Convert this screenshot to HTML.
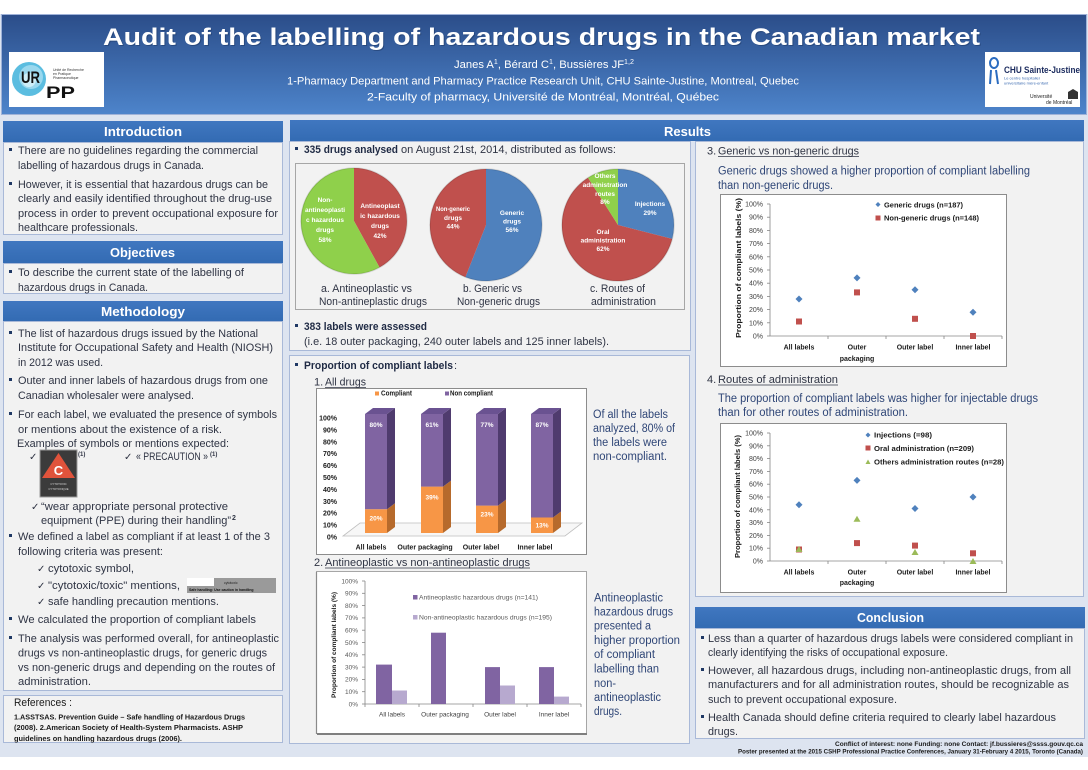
<!DOCTYPE html>
<html><head><meta charset="utf-8">
<style>
html,body{margin:0;padding:0;background:#fff}
svg{display:block}
text{font-family:"Liberation Sans",sans-serif}
.b{font-size:11px;fill:#2f3444}
.bb{font-size:11px;fill:#1f2a44;font-weight:bold}
.c{font-size:11.5px;fill:#2f4677}
.h{font-size:13px;fill:#fff;font-weight:bold}
.ck{font-family:"DejaVu Sans",sans-serif;font-size:10px;fill:#2f3444}
.pw{font-size:6.5px;fill:#fff;font-weight:bold;text-anchor:middle}
.a7b{font-size:7px;fill:#1a1a1a;font-weight:bold}
.a7{font-size:7px;fill:#404040}
.a65{font-size:6.5px;fill:#595959}
.e{text-anchor:end}
.m{text-anchor:middle}
</style></head>
<body>
<svg width="1088" height="770" viewBox="0 0 1088 770" xmlns="http://www.w3.org/2000/svg">
<defs>
<linearGradient id="hg" x1="0" y1="0" x2="0" y2="1"><stop offset="0" stop-color="#2b4d89"/><stop offset="1" stop-color="#4d84cb"/></linearGradient>
<linearGradient id="sg" x1="0" y1="0" x2="0" y2="1"><stop offset="0" stop-color="#4077c0"/><stop offset="1" stop-color="#336bb3"/></linearGradient>
</defs>
<rect x="0" y="0" width="1088" height="770" fill="#fff"/>
<rect x="0" y="14" width="1088" height="743" fill="#dde4f0"/>
<!-- Header -->
<rect x="1.5" y="14.5" width="1085" height="100" fill="url(#hg)" stroke="#9fb2d8"/>
<text x="104" y="46" font-size="24" font-weight="bold" fill="#1b3560" opacity="0.5" textLength="877" lengthAdjust="spacingAndGlyphs">Audit of the labelling of hazardous drugs in the Canadian market</text>
<text x="103" y="45" font-size="24" font-weight="bold" fill="#fff" textLength="877" lengthAdjust="spacingAndGlyphs">Audit of the labelling of hazardous drugs in the Canadian market</text>
<text x="454" y="68" font-size="11" fill="#fff" textLength="180" lengthAdjust="spacingAndGlyphs">Janes A<tspan font-size="7" dy="-4">1</tspan><tspan dy="4">, Bérard C</tspan><tspan font-size="7" dy="-4">1</tspan><tspan dy="4">, Bussières JF</tspan><tspan font-size="7" dy="-4">1,2</tspan></text>
<text x="287" y="84.5" font-size="11" fill="#fff" textLength="512" lengthAdjust="spacingAndGlyphs">1-Pharmacy Department and Pharmacy Practice Research Unit, CHU Sainte-Justine, Montreal, Quebec</text>
<text x="367" y="100.5" font-size="11" fill="#fff" textLength="352" lengthAdjust="spacingAndGlyphs">2-Faculty of pharmacy, Université de Montréal, Montréal, Québec</text>
<!-- left logo -->
<rect x="9" y="52" width="95" height="55" fill="#fff"/>
<circle cx="29" cy="79" r="17" fill="#5bbde0"/>
<circle cx="31" cy="77" r="12" fill="#9ad8ee"/>
<circle cx="29" cy="80" r="7" fill="#cdeef8"/>
<text x="21" y="83" font-size="17" font-weight="bold" fill="#111" textLength="19" lengthAdjust="spacingAndGlyphs">UR</text>
<text x="46" y="98" font-size="17" font-weight="bold" fill="#111" textLength="29" lengthAdjust="spacingAndGlyphs">PP</text>
<text x="53" y="71" font-size="3.5" fill="#333">Unité de Recherche</text>
<text x="53" y="75" font-size="3.5" fill="#333">en Pratique</text>
<text x="53" y="79" font-size="3.5" fill="#333">Pharmaceutique</text>
<!-- right logo -->
<rect x="985" y="52" width="95" height="55" fill="#fff"/>
<ellipse cx="994" cy="63" rx="4" ry="5" fill="none" stroke="#2b6cc0" stroke-width="2"/>
<path d="M991 70 L990 84 M996 70 L998 84" stroke="#2b6cc0" stroke-width="2"/>
<text x="1004" y="73" font-family="Liberation Serif,serif" font-weight="bold" font-size="9" fill="#1b2b5e" textLength="76" lengthAdjust="spacingAndGlyphs">CHU Sainte-Justine</text>
<text x="1004" y="79.5" font-size="4" fill="#3a6ab0">Le centre hospitalier</text>
<text x="1004" y="84.5" font-size="4" fill="#3a6ab0">universitaire mère-enfant</text>
<text x="1030" y="98" font-family="Liberation Serif,serif" font-size="5" fill="#222">Université</text>
<text x="1046" y="104" font-family="Liberation Serif,serif" font-size="5" fill="#222">de Montréal</text>
<path d="M1068 99 L1068 92 L1073 89 L1078 92 L1078 99 Z" fill="#333"/>

<!-- LEFT COLUMN -->
<rect x="3" y="121" width="280" height="21" fill="url(#sg)"/>
<text class="h" x="104" y="136" textLength="78" lengthAdjust="spacingAndGlyphs">Introduction</text>
<rect x="3.5" y="142.5" width="279" height="92" fill="#f2f2f2" stroke="#a9b9d8"/>
<rect x="9" y="148" width="3" height="3" fill="#1f3864"/>
<text class="b" x="18" y="154" textLength="240" lengthAdjust="spacingAndGlyphs">There are no guidelines regarding the commercial</text>
<text class="b" x="18" y="169" textLength="186" lengthAdjust="spacingAndGlyphs">labelling of hazardous drugs in Canada.</text>
<rect x="9" y="182" width="3" height="3" fill="#1f3864"/>
<text class="b" x="18" y="188" textLength="250" lengthAdjust="spacingAndGlyphs">However, it is essential that hazardous drugs can be</text>
<text class="b" x="18" y="202" textLength="254" lengthAdjust="spacingAndGlyphs">clearly and easily identified throughout the drug-use</text>
<text class="b" x="18" y="217" textLength="260" lengthAdjust="spacingAndGlyphs">process in order to prevent occupational exposure for</text>
<text class="b" x="18" y="231" textLength="120" lengthAdjust="spacingAndGlyphs">healthcare professionals.</text>

<rect x="3" y="241" width="280" height="22" fill="url(#sg)"/>
<text class="h" x="110" y="257" textLength="65" lengthAdjust="spacingAndGlyphs">Objectives</text>
<rect x="3.5" y="263.5" width="279" height="30" fill="#f2f2f2" stroke="#a9b9d8"/>
<rect x="9" y="270" width="3" height="3" fill="#1f3864"/>
<text class="b" x="18" y="276" textLength="226" lengthAdjust="spacingAndGlyphs">To describe the current state of the labelling of</text>
<text class="b" x="18" y="291" textLength="130" lengthAdjust="spacingAndGlyphs">hazardous drugs in Canada.</text>

<rect x="3" y="301" width="280" height="20" fill="url(#sg)"/>
<text class="h" x="101" y="316" textLength="84" lengthAdjust="spacingAndGlyphs">Methodology</text>
<rect x="3.5" y="321.5" width="279" height="369" fill="#f2f2f2" stroke="#a9b9d8"/>
<rect x="9" y="331" width="3" height="3" fill="#1f3864"/>
<text class="b" x="18" y="337" textLength="240" lengthAdjust="spacingAndGlyphs">The list of hazardous drugs issued by the National</text>
<text class="b" x="18" y="351" textLength="255" lengthAdjust="spacingAndGlyphs">Institute for Occupational Safety and Health (NIOSH)</text>
<text class="b" x="18" y="366" textLength="85" lengthAdjust="spacingAndGlyphs">in 2012 was used.</text>
<rect x="9" y="378" width="3" height="3" fill="#1f3864"/>
<text class="b" x="18" y="384" textLength="250" lengthAdjust="spacingAndGlyphs">Outer and inner labels of hazardous drugs from one</text>
<text class="b" x="18" y="399" textLength="176" lengthAdjust="spacingAndGlyphs">Canadian wholesaler were analysed.</text>
<rect x="9" y="412" width="3" height="3" fill="#1f3864"/>
<text class="b" x="18" y="418" textLength="259" lengthAdjust="spacingAndGlyphs">For each label, we evaluated the presence of symbols</text>
<text class="b" x="18" y="433" textLength="204" lengthAdjust="spacingAndGlyphs">or mentions about the existence of a risk.</text>
<text class="b" x="17" y="447" textLength="212" lengthAdjust="spacingAndGlyphs">Examples of symbols or mentions expected:</text>
<text class="ck" x="29" y="460">✓</text>
<rect x="40" y="450" width="37" height="47" fill="#3b3b3b" stroke="#9a9a9a"/>
<polygon points="58.5,453 42,478 75,478" fill="#e0533b"/>
<text x="58.5" y="475" font-size="13" font-weight="bold" fill="#fff" text-anchor="middle">C</text>
<text x="58.5" y="485" font-size="2.8" fill="#ddd" text-anchor="middle">CYTOTOXIC</text>
<text x="58.5" y="490" font-size="2.8" fill="#ddd" text-anchor="middle">CYTOTOXIQUE</text>
<text x="78" y="456" font-size="6" font-weight="bold" fill="#2f3444">(1)</text>
<text class="ck" x="124" y="460">✓</text>
<text class="b" x="136" y="460" textLength="72" lengthAdjust="spacingAndGlyphs">« PRECAUTION »</text>
<text x="210" y="456" font-size="6" font-weight="bold" fill="#2f3444">(1)</text>
<text class="ck" x="31" y="510">✓</text>
<text class="b" x="41" y="510" textLength="187" lengthAdjust="spacingAndGlyphs">“wear appropriate personal protective</text>
<text class="b" x="41" y="524" textLength="190" lengthAdjust="spacingAndGlyphs">equipment (PPE) during their handling”</text>
<text x="232" y="520" font-size="7" font-weight="bold" fill="#2f3444">2</text>
<rect x="9" y="534" width="3" height="3" fill="#1f3864"/>
<text class="b" x="18" y="540" textLength="252" lengthAdjust="spacingAndGlyphs">We defined a label as compliant if at least 1 of the 3</text>
<text class="b" x="18" y="555" textLength="145" lengthAdjust="spacingAndGlyphs">following criteria was present:</text>
<text class="ck" x="37" y="572">✓</text>
<text class="b" x="48" y="572" textLength="86" lengthAdjust="spacingAndGlyphs">cytotoxic symbol,</text>
<text class="ck" x="37" y="589">✓</text>
<text class="b" x="48" y="589" textLength="132" lengthAdjust="spacingAndGlyphs">"cytotoxic/toxic" mentions,</text>
<rect x="187" y="578" width="89" height="15" fill="#9a9a9a"/>
<rect x="187" y="578" width="27" height="8" fill="#fff"/>
<text x="224" y="584" font-size="3.5" fill="#222">cytotoxic</text>
<text x="189" y="591" font-size="3.5" fill="#111" font-weight="bold">Safe handling: Use caution in handling</text>
<text class="ck" x="37" y="605">✓</text>
<text class="b" x="48" y="605" textLength="171" lengthAdjust="spacingAndGlyphs">safe handling precaution mentions.</text>
<rect x="9" y="617" width="3" height="3" fill="#1f3864"/>
<text class="b" x="18" y="623" textLength="238" lengthAdjust="spacingAndGlyphs">We calculated the proportion of compliant labels</text>
<rect x="9" y="636" width="3" height="3" fill="#1f3864"/>
<text class="b" x="18" y="642" textLength="261" lengthAdjust="spacingAndGlyphs">The analysis was performed overall, for antineoplastic</text>
<text class="b" x="18" y="656.5" textLength="249" lengthAdjust="spacingAndGlyphs">drugs vs non-antineoplastic drugs, for generic drugs</text>
<text class="b" x="18" y="671" textLength="257" lengthAdjust="spacingAndGlyphs">vs non-generic drugs and depending on the routes of</text>
<text class="b" x="18" y="685" textLength="73" lengthAdjust="spacingAndGlyphs">administration.</text>

<rect x="3.5" y="695.5" width="279" height="47" fill="#f2f2f2" stroke="#a9b9d8"/>
<text x="14" y="706" font-size="11" fill="#1a1a1a" textLength="58" lengthAdjust="spacingAndGlyphs">References :</text>
<text x="14" y="719.5" font-size="7.5" font-weight="bold" fill="#1a1a1a" textLength="231" lengthAdjust="spacingAndGlyphs">1.ASSTSAS. Prevention Guide – Safe handling of Hazardous Drugs</text>
<text x="14" y="730" font-size="7.5" font-weight="bold" fill="#1a1a1a" textLength="229" lengthAdjust="spacingAndGlyphs">(2008). 2.American Society of Health-System Pharmacists. ASHP</text>
<text x="14" y="741" font-size="7.5" font-weight="bold" fill="#1a1a1a" textLength="168" lengthAdjust="spacingAndGlyphs">guidelines on handling hazardous drugs (2006).</text>

<!-- RESULTS HEADER -->
<rect x="290" y="120" width="794" height="21" fill="url(#sg)"/>
<text class="h" x="664" y="136" textLength="47" lengthAdjust="spacingAndGlyphs">Results</text>

<!-- Box A -->
<rect x="289.5" y="141.5" width="401" height="209" fill="#f2f2f2" stroke="#a9b9d8"/>
<rect x="295" y="147" width="3" height="3" fill="#1f3864"/>
<text class="bb" x="304" y="153" textLength="94" lengthAdjust="spacingAndGlyphs">335 drugs analysed</text>
<text class="b" x="401" y="153" textLength="215" lengthAdjust="spacingAndGlyphs">on August 21st, 2014, distributed as follows:</text>
<rect x="295.5" y="163.5" width="389" height="146" fill="#f2f2f2" stroke="#a6a6a6"/>
<!-- pie 1 -->
<path d="M354,221 L354,168 A53,53 0 0,1 379.5,267.4 Z" fill="#c0504d"/>
<path d="M354,221 L379.5,267.4 A53,53 0 1,1 354,168 Z" fill="#8fd04b"/>
<circle cx="354" cy="221" r="53" fill="none" stroke="#000" stroke-opacity="0.12" stroke-width="1.5"/>
<text class="pw" x="325" y="202">Non-</text>
<text class="pw" x="325" y="212">antineoplasti</text>
<text class="pw" x="325" y="222">c hazardous</text>
<text class="pw" x="325" y="232">drugs</text>
<text class="pw" x="325" y="242">58%</text>
<text class="pw" x="380" y="208">Antineoplast</text>
<text class="pw" x="380" y="218">ic hazardous</text>
<text class="pw" x="380" y="228">drugs</text>
<text class="pw" x="380" y="238">42%</text>
<!-- pie 2 -->
<path d="M486,225 L486,169 A56,56 0 1,1 465.4,277.1 Z" fill="#4f81bd"/>
<path d="M486,225 L465.4,277.1 A56,56 0 0,1 486,169 Z" fill="#c0504d"/>
<circle cx="486" cy="225" r="56" fill="none" stroke="#000" stroke-opacity="0.12" stroke-width="1.5"/>
<text class="pw" x="453" y="211" textLength="34" lengthAdjust="spacingAndGlyphs">Non-generic</text>
<text class="pw" x="453" y="220">drugs</text>
<text class="pw" x="453" y="228.5">44%</text>
<text class="pw" x="512" y="215">Generic</text>
<text class="pw" x="512" y="223.5">drugs</text>
<text class="pw" x="512" y="232">56%</text>
<!-- pie 3 -->
<path d="M618,225 L618,169 A56,56 0 0,1 672.2,238.9 Z" fill="#4f81bd"/>
<path d="M618,225 L672.2,238.9 A56,56 0 1,1 588,177.7 Z" fill="#c0504d"/>
<path d="M618,225 L588,177.7 A56,56 0 0,1 618,169 Z" fill="#8fd04b"/>
<circle cx="618" cy="225" r="56" fill="none" stroke="#000" stroke-opacity="0.12" stroke-width="1.5"/>
<text class="pw" x="605" y="178">Others</text>
<text class="pw" x="605" y="187">administration</text>
<text class="pw" x="605" y="196">routes</text>
<text class="pw" x="605" y="204">8%</text>
<text class="pw" x="650" y="206">Injections</text>
<text class="pw" x="650" y="215">29%</text>
<text class="pw" x="603" y="234">Oral</text>
<text class="pw" x="603" y="242.5">administration</text>
<text class="pw" x="603" y="251">62%</text>
<text class="b" x="321" y="292" textLength="91" lengthAdjust="spacingAndGlyphs">a.  Antineoplastic vs</text>
<text class="b" x="319" y="305" textLength="108" lengthAdjust="spacingAndGlyphs">Non-antineplastic drugs</text>
<text class="b" x="463" y="292" textLength="59" lengthAdjust="spacingAndGlyphs">b.  Generic vs</text>
<text class="b" x="457" y="305" textLength="83" lengthAdjust="spacingAndGlyphs">Non-generic drugs</text>
<text class="b" x="590" y="292" textLength="55" lengthAdjust="spacingAndGlyphs">c.  Routes of</text>
<text class="b" x="591" y="305" textLength="65" lengthAdjust="spacingAndGlyphs">administration</text>
<rect x="295" y="324" width="3" height="3" fill="#1f3864"/>
<text class="bb" x="304" y="330" textLength="123" lengthAdjust="spacingAndGlyphs">383 labels were assessed</text>
<text class="b" x="304" y="345" textLength="305" lengthAdjust="spacingAndGlyphs">(i.e. 18 outer packaging, 240 outer labels and 125 inner labels).</text>

<!-- Box B -->
<rect x="289.5" y="355.5" width="400" height="388" fill="#f2f2f2" stroke="#a9b9d8"/>
<rect x="295" y="363" width="3" height="3" fill="#1f3864"/>
<text class="bb" x="304" y="369" textLength="149" lengthAdjust="spacingAndGlyphs">Proportion of compliant labels</text>
<text class="b" x="454" y="369">:</text>
<text class="b" x="314" y="385.5">1.</text>
<text class="b" x="325" y="385.5" textLength="41" lengthAdjust="spacingAndGlyphs">All drugs</text>
<line x1="325" y1="387.5" x2="366" y2="387.5" stroke="#2f3444" stroke-width="0.8"/>

<!-- Chart 1 -->
<rect x="316.5" y="388.5" width="270" height="166" fill="#fff" stroke="#8c8c8c"/>
<rect x="375" y="391.5" width="4" height="4" fill="#f79646"/>
<text class="a7b" x="381" y="395.5" textLength="31" lengthAdjust="spacingAndGlyphs">Compliant</text>
<rect x="445" y="391.5" width="4" height="4" fill="#8064a2"/>
<text class="a7b" x="450" y="395.5" textLength="43" lengthAdjust="spacingAndGlyphs">Non compliant</text>
<text class="a7b e" x="337" y="539.5">0%</text>
<text class="a7b e" x="337" y="527.6">10%</text>
<text class="a7b e" x="337" y="515.7">20%</text>
<text class="a7b e" x="337" y="503.8">30%</text>
<text class="a7b e" x="337" y="491.9">40%</text>
<text class="a7b e" x="337" y="480">50%</text>
<text class="a7b e" x="337" y="468.1">60%</text>
<text class="a7b e" x="337" y="456.2">70%</text>
<text class="a7b e" x="337" y="444.3">80%</text>
<text class="a7b e" x="337" y="432.4">90%</text>
<text class="a7b e" x="337" y="420.5">100%</text>
<polygon points="343,536 565,536 582,523 360,523" fill="#f7f7f7" stroke="#bfbfbf" stroke-width="0.8"/>
<!-- bar1 -->
<rect x="365" y="509.2" width="22" height="23.8" fill="#f79646"/>
<rect x="365" y="414" width="22" height="95.2" fill="#8064a2"/>
<polygon points="387,533 395,527 395,503.2 387,509.2" fill="#b66a2c"/>
<polygon points="387,509.2 395,503.2 395,408 387,414" fill="#4f3b6e"/>
<polygon points="365,414 373,408 395,408 387,414" fill="#6a5291"/>
<!-- bar2 -->
<rect x="421" y="486.6" width="22" height="46.4" fill="#f79646"/>
<rect x="421" y="414" width="22" height="72.6" fill="#8064a2"/>
<polygon points="443,533 451,527 451,480.6 443,486.6" fill="#b66a2c"/>
<polygon points="443,486.6 451,480.6 451,408 443,414" fill="#4f3b6e"/>
<polygon points="421,414 429,408 451,408 443,414" fill="#6a5291"/>
<!-- bar3 -->
<rect x="476" y="505.6" width="22" height="27.4" fill="#f79646"/>
<rect x="476" y="414" width="22" height="91.6" fill="#8064a2"/>
<polygon points="498,533 506,527 506,499.6 498,505.6" fill="#b66a2c"/>
<polygon points="498,505.6 506,499.6 506,408 498,414" fill="#4f3b6e"/>
<polygon points="476,414 484,408 506,408 498,414" fill="#6a5291"/>
<!-- bar4 -->
<rect x="531" y="517.5" width="22" height="15.5" fill="#f79646"/>
<rect x="531" y="414" width="22" height="103.5" fill="#8064a2"/>
<polygon points="553,533 561,527 561,511.5 553,517.5" fill="#b66a2c"/>
<polygon points="553,517.5 561,511.5 561,408 553,414" fill="#4f3b6e"/>
<polygon points="531,414 539,408 561,408 553,414" fill="#6a5291"/>
<text class="pw" x="376" y="427">80%</text>
<text class="pw" x="432" y="427">61%</text>
<text class="pw" x="487" y="427">77%</text>
<text class="pw" x="542" y="427">87%</text>
<text class="pw" x="376" y="520.5">20%</text>
<text class="pw" x="432" y="499.5">39%</text>
<text class="pw" x="487" y="516.5">23%</text>
<text class="pw" x="542" y="527.5">13%</text>
<text class="a7b m" x="371" y="549.5">All labels</text>
<text class="a7b m" x="425" y="549.5">Outer packaging</text>
<text class="a7b m" x="481" y="549.5">Outer label</text>
<text class="a7b m" x="535" y="549.5">Inner label</text>

<text class="c" x="593" y="418" textLength="75" lengthAdjust="spacingAndGlyphs">Of all the labels</text>
<text class="c" x="593" y="432" textLength="82" lengthAdjust="spacingAndGlyphs">analyzed, 80% of</text>
<text class="c" x="593" y="446" textLength="74" lengthAdjust="spacingAndGlyphs">the labels were</text>
<text class="c" x="593" y="460" textLength="74" lengthAdjust="spacingAndGlyphs">non-compliant.</text>

<text class="b" x="314" y="566">2.</text>
<text class="b" x="325" y="566" textLength="205" lengthAdjust="spacingAndGlyphs">Antineoplastic vs non-antineoplastic drugs</text>
<line x1="325" y1="568" x2="530" y2="568" stroke="#2f3444" stroke-width="0.8"/>

<!-- Chart 2 -->
<rect x="316.5" y="571.5" width="270" height="162" fill="#fff" stroke="#a6a6a6"/>
<line x1="317" y1="734" x2="587" y2="734" stroke="#7f7f7f" stroke-width="2"/>
<line x1="316.5" y1="572" x2="316.5" y2="734" stroke="#8a8a8a" stroke-width="1.2"/>
<g stroke="#868686" stroke-width="0.8">
<line x1="365" y1="581" x2="365" y2="704"/>
<line x1="365" y1="704" x2="581" y2="704"/>
<line x1="362" y1="704" x2="365" y2="704"/><line x1="362" y1="691.7" x2="365" y2="691.7"/><line x1="362" y1="679.4" x2="365" y2="679.4"/><line x1="362" y1="667.1" x2="365" y2="667.1"/><line x1="362" y1="654.8" x2="365" y2="654.8"/><line x1="362" y1="642.5" x2="365" y2="642.5"/><line x1="362" y1="630.2" x2="365" y2="630.2"/><line x1="362" y1="617.9" x2="365" y2="617.9"/><line x1="362" y1="605.6" x2="365" y2="605.6"/><line x1="362" y1="593.3" x2="365" y2="593.3"/><line x1="362" y1="581" x2="365" y2="581"/>
<line x1="419" y1="704" x2="419" y2="707"/><line x1="473" y1="704" x2="473" y2="707"/><line x1="527" y1="704" x2="527" y2="707"/><line x1="581" y1="704" x2="581" y2="707"/><line x1="365" y1="704" x2="365" y2="707"/>
</g>
<text class="a65 e" x="358" y="706.3">0%</text>
<text class="a65 e" x="358" y="694">10%</text>
<text class="a65 e" x="358" y="681.7">20%</text>
<text class="a65 e" x="358" y="669.4">30%</text>
<text class="a65 e" x="358" y="657.1">40%</text>
<text class="a65 e" x="358" y="644.8">50%</text>
<text class="a65 e" x="358" y="632.5">60%</text>
<text class="a65 e" x="358" y="620.2">70%</text>
<text class="a65 e" x="358" y="607.9">80%</text>
<text class="a65 e" x="358" y="595.6">90%</text>
<text class="a65 e" x="358" y="583.3">100%</text>
<rect x="376" y="664.6" width="16" height="39.4" fill="#8064a2"/>
<rect x="392" y="690.5" width="15" height="13.5" fill="#b7a9cf"/>
<rect x="431" y="632.7" width="15" height="71.3" fill="#8064a2"/>
<rect x="485" y="667.1" width="15" height="36.9" fill="#8064a2"/>
<rect x="500" y="685.5" width="15" height="18.5" fill="#b7a9cf"/>
<rect x="539" y="667.1" width="15" height="36.9" fill="#8064a2"/>
<rect x="554" y="696.6" width="15" height="7.4" fill="#b7a9cf"/>
<rect x="413" y="595" width="4.5" height="4.5" fill="#8064a2"/>
<text class="a65" x="419" y="599.5" textLength="119" lengthAdjust="spacingAndGlyphs">Antineoplastic hazardous drugs (n=141)</text>
<rect x="413" y="615" width="4.5" height="4.5" fill="#b7a9cf"/>
<text class="a65" x="419" y="619.5" textLength="133" lengthAdjust="spacingAndGlyphs">Non-antineoplastic hazardous drugs (n=195)</text>
<text class="a65 m" x="392" y="716.5" style="fill:#404040">All labels</text>
<text class="a65 m" x="445" y="716.5" style="fill:#404040">Outer packaging</text>
<text class="a65 m" x="500" y="716.5" style="fill:#404040">Outer label</text>
<text class="a65 m" x="554" y="716.5" style="fill:#404040">Inner label</text>
<text transform="translate(336,645) rotate(-90)" text-anchor="middle" font-size="6.5" font-weight="bold" fill="#1a1a1a" textLength="106" lengthAdjust="spacingAndGlyphs">Proportion of compliant labels (%)</text>

<text class="c" x="594" y="601.5" textLength="69" lengthAdjust="spacingAndGlyphs">Antineoplastic</text>
<text class="c" x="594" y="615.5" textLength="79" lengthAdjust="spacingAndGlyphs">hazardous drugs</text>
<text class="c" x="594" y="629.5" textLength="57" lengthAdjust="spacingAndGlyphs">presented a</text>
<text class="c" x="594" y="644" textLength="86" lengthAdjust="spacingAndGlyphs">higher proportion</text>
<text class="c" x="594" y="658" textLength="61" lengthAdjust="spacingAndGlyphs">of compliant</text>
<text class="c" x="594" y="672.5" textLength="65" lengthAdjust="spacingAndGlyphs">labelling than</text>
<text class="c" x="594" y="687" textLength="22" lengthAdjust="spacingAndGlyphs">non-</text>
<text class="c" x="594" y="701" textLength="67" lengthAdjust="spacingAndGlyphs">antineoplastic</text>
<text class="c" x="594" y="715" textLength="28" lengthAdjust="spacingAndGlyphs">drugs.</text>

<!-- RIGHT BOX -->
<rect x="695.5" y="141.5" width="388" height="455" fill="#f2f2f2" stroke="#a9b9d8"/>
<text class="b" x="707" y="154.5">3.</text>
<text class="b" x="718" y="154.5" textLength="141" lengthAdjust="spacingAndGlyphs">Generic vs non-generic drugs</text>
<line x1="718" y1="156.5" x2="859" y2="156.5" stroke="#2f3444" stroke-width="0.8"/>
<text class="c" x="718" y="174.5" textLength="312" lengthAdjust="spacingAndGlyphs">Generic drugs showed a higher proportion of compliant labelling</text>
<text class="c" x="718" y="189" textLength="115" lengthAdjust="spacingAndGlyphs">than non-generic drugs.</text>

<!-- Chart 3 -->
<rect x="720.5" y="194.5" width="286" height="172" fill="#fff" stroke="#8c8c8c"/>
<g stroke="#868686" stroke-width="0.8">
<line x1="770" y1="204" x2="770" y2="336"/>
<line x1="770" y1="336" x2="1002" y2="336"/>
<line x1="767" y1="336" x2="770" y2="336"/><line x1="767" y1="322.8" x2="770" y2="322.8"/><line x1="767" y1="309.6" x2="770" y2="309.6"/><line x1="767" y1="296.4" x2="770" y2="296.4"/><line x1="767" y1="283.2" x2="770" y2="283.2"/><line x1="767" y1="270" x2="770" y2="270"/><line x1="767" y1="256.8" x2="770" y2="256.8"/><line x1="767" y1="243.6" x2="770" y2="243.6"/><line x1="767" y1="230.4" x2="770" y2="230.4"/><line x1="767" y1="217.2" x2="770" y2="217.2"/><line x1="767" y1="204" x2="770" y2="204"/>
<line x1="828" y1="336" x2="828" y2="339"/><line x1="886" y1="336" x2="886" y2="339"/><line x1="944" y1="336" x2="944" y2="339"/><line x1="1002" y1="336" x2="1002" y2="339"/>
</g>
<text class="a7 e" x="763" y="338.5">0%</text>
<text class="a7 e" x="763" y="325.3">10%</text>
<text class="a7 e" x="763" y="312.1">20%</text>
<text class="a7 e" x="763" y="298.9">30%</text>
<text class="a7 e" x="763" y="285.7">40%</text>
<text class="a7 e" x="763" y="272.5">50%</text>
<text class="a7 e" x="763" y="259.3">60%</text>
<text class="a7 e" x="763" y="246.1">70%</text>
<text class="a7 e" x="763" y="232.9">80%</text>
<text class="a7 e" x="763" y="219.7">90%</text>
<text class="a7 e" x="763" y="206.5">100%</text>
<g fill="#4f81bd">
<polygon points="799,295.5 802.5,299 799,302.5 795.5,299"/>
<polygon points="857,274.4 860.5,277.9 857,281.4 853.5,277.9"/>
<polygon points="915,286.3 918.5,289.8 915,293.3 911.5,289.8"/>
<polygon points="973,308.7 976.5,312.2 973,315.7 969.5,312.2"/>
</g>
<g fill="#c0504d">
<rect x="796" y="318.5" width="6" height="6"/>
<rect x="854" y="289.4" width="6" height="6"/>
<rect x="912" y="315.8" width="6" height="6"/>
<rect x="970" y="333" width="6" height="6"/>
</g>
<polygon points="878,202 880.5,204.5 878,207 875.5,204.5" fill="#4f81bd"/>
<text class="a7b" x="884" y="207.5" textLength="79" lengthAdjust="spacingAndGlyphs">Generic drugs (n=187)</text>
<rect x="875.5" y="215.5" width="5" height="5" fill="#c0504d"/>
<text class="a7b" x="884" y="220.5" textLength="95" lengthAdjust="spacingAndGlyphs">Non-generic drugs (n=148)</text>
<text class="a7b m" x="799" y="349.5">All labels</text>
<text class="a7b m" x="857" y="349.5">Outer</text>
<text class="a7b m" x="857" y="361">packaging</text>
<text class="a7b m" x="915" y="349.5">Outer label</text>
<text class="a7b m" x="973" y="349.5">Inner label</text>
<text transform="translate(741,268) rotate(-90)" text-anchor="middle" font-size="7" font-weight="bold" fill="#1a1a1a" textLength="140" lengthAdjust="spacingAndGlyphs">Proportion of compliant labels (%)</text>

<text class="b" x="707" y="383">4.</text>
<text class="b" x="718" y="383" textLength="120" lengthAdjust="spacingAndGlyphs">Routes of administration</text>
<line x1="718" y1="385" x2="838" y2="385" stroke="#2f3444" stroke-width="0.8"/>
<text class="c" x="718" y="402" textLength="320" lengthAdjust="spacingAndGlyphs">The proportion of compliant labels was higher for injectable drugs</text>
<text class="c" x="718" y="416" textLength="190" lengthAdjust="spacingAndGlyphs">than for other routes of administration.</text>

<!-- Chart 4 -->
<rect x="720.5" y="423.5" width="286" height="169" fill="#fff" stroke="#8c8c8c"/>
<g stroke="#868686" stroke-width="0.8">
<line x1="770" y1="433" x2="770" y2="561"/>
<line x1="770" y1="561" x2="1002" y2="561"/>
<line x1="767" y1="561" x2="770" y2="561"/><line x1="767" y1="548.2" x2="770" y2="548.2"/><line x1="767" y1="535.4" x2="770" y2="535.4"/><line x1="767" y1="522.6" x2="770" y2="522.6"/><line x1="767" y1="509.8" x2="770" y2="509.8"/><line x1="767" y1="497" x2="770" y2="497"/><line x1="767" y1="484.2" x2="770" y2="484.2"/><line x1="767" y1="471.4" x2="770" y2="471.4"/><line x1="767" y1="458.6" x2="770" y2="458.6"/><line x1="767" y1="445.8" x2="770" y2="445.8"/><line x1="767" y1="433" x2="770" y2="433"/>
<line x1="828" y1="561" x2="828" y2="564"/><line x1="886" y1="561" x2="886" y2="564"/><line x1="944" y1="561" x2="944" y2="564"/><line x1="1002" y1="561" x2="1002" y2="564"/>
</g>
<text class="a7 e" x="763" y="563.5">0%</text>
<text class="a7 e" x="763" y="550.7">10%</text>
<text class="a7 e" x="763" y="537.9">20%</text>
<text class="a7 e" x="763" y="525.1">30%</text>
<text class="a7 e" x="763" y="512.3">40%</text>
<text class="a7 e" x="763" y="499.5">50%</text>
<text class="a7 e" x="763" y="486.7">60%</text>
<text class="a7 e" x="763" y="473.9">70%</text>
<text class="a7 e" x="763" y="461.1">80%</text>
<text class="a7 e" x="763" y="448.3">90%</text>
<text class="a7 e" x="763" y="435.5">100%</text>
<g fill="#4f81bd">
<polygon points="799,501.2 802.5,504.7 799,508.2 795.5,504.7"/>
<polygon points="857,476.9 860.5,480.4 857,483.9 853.5,480.4"/>
<polygon points="915,505 918.5,508.5 915,512 911.5,508.5"/>
<polygon points="973,493.5 976.5,497 973,500.5 969.5,497"/>
</g>
<g fill="#c0504d">
<rect x="796" y="546.5" width="6" height="6"/>
<rect x="854" y="540.1" width="6" height="6"/>
<rect x="912" y="542.6" width="6" height="6"/>
<rect x="970" y="550.3" width="6" height="6"/>
</g>
<g fill="#9bbb59">
<polygon points="799,546 802.5,552 795.5,552"/>
<polygon points="857,515.8 860.5,521.8 853.5,521.8"/>
<polygon points="915,549 918.5,555 911.5,555"/>
<polygon points="973,558 976.5,564 969.5,564"/>
</g>
<polygon points="868,432.5 870.5,435 868,437.5 865.5,435" fill="#4f81bd"/>
<text class="a7b" x="874" y="437.5" textLength="58" lengthAdjust="spacingAndGlyphs">Injections (=98)</text>
<rect x="865.5" y="445.5" width="5" height="5" fill="#c0504d"/>
<text class="a7b" x="874" y="451" textLength="100" lengthAdjust="spacingAndGlyphs">Oral administration (n=209)</text>
<polygon points="868,459.5 870.5,464 865.5,464" fill="#9bbb59"/>
<text class="a7b" x="874" y="464.5" textLength="130" lengthAdjust="spacingAndGlyphs">Others administration routes (n=28)</text>
<text class="a7b m" x="799" y="574.5">All labels</text>
<text class="a7b m" x="857" y="574.5">Outer</text>
<text class="a7b m" x="857" y="585">packaging</text>
<text class="a7b m" x="915" y="574.5">Outer label</text>
<text class="a7b m" x="973" y="574.5">Inner label</text>
<text transform="translate(740,496.5) rotate(-90)" text-anchor="middle" font-size="7" font-weight="bold" fill="#1a1a1a" textLength="123" lengthAdjust="spacingAndGlyphs">Proportion of compliant labels (%)</text>

<!-- CONCLUSION -->
<rect x="695" y="607" width="390" height="21" fill="url(#sg)"/>
<text class="h" x="857" y="622" textLength="67" lengthAdjust="spacingAndGlyphs">Conclusion</text>
<rect x="695.5" y="628.5" width="389" height="110" fill="#f2f2f2" stroke="#a9b9d8"/>
<rect x="701" y="636" width="3" height="3" fill="#1f3864"/>
<text class="b" x="708" y="642" textLength="365" lengthAdjust="spacingAndGlyphs">Less than a quarter of hazardous drugs labels were considered compliant in</text>
<text class="b" x="708" y="656" textLength="240" lengthAdjust="spacingAndGlyphs">clearly identifying the risks of occupational exposure.</text>
<rect x="701" y="668" width="3" height="3" fill="#1f3864"/>
<text class="b" x="708" y="674" textLength="363" lengthAdjust="spacingAndGlyphs">However, all hazardous drugs, including non-antineoplastic drugs, from all</text>
<text class="b" x="708" y="688" textLength="361" lengthAdjust="spacingAndGlyphs">manufacturers and for all administration routes, should be recognizable as</text>
<text class="b" x="708" y="703" textLength="189" lengthAdjust="spacingAndGlyphs">such to prevent occupational exposure.</text>
<rect x="701" y="715" width="3" height="3" fill="#1f3864"/>
<text class="b" x="708" y="721" textLength="348" lengthAdjust="spacingAndGlyphs">Health Canada should define criteria required to clearly label hazardous</text>
<text class="b" x="708" y="735" textLength="30" lengthAdjust="spacingAndGlyphs">drugs.</text>

<text x="835" y="746" font-size="6.5" font-weight="bold" fill="#1a1a1a" textLength="248" lengthAdjust="spacingAndGlyphs">Conflict of interest: none   Funding: none   Contact: jf.bussieres@ssss.gouv.qc.ca</text>
<text x="738" y="753.5" font-size="6.5" font-weight="bold" fill="#1a1a1a" textLength="345" lengthAdjust="spacingAndGlyphs">Poster presented at the 2015 CSHP Professional Practice Conferences, January 31-February 4 2015, Toronto (Canada)</text>
</svg>
</body></html>
